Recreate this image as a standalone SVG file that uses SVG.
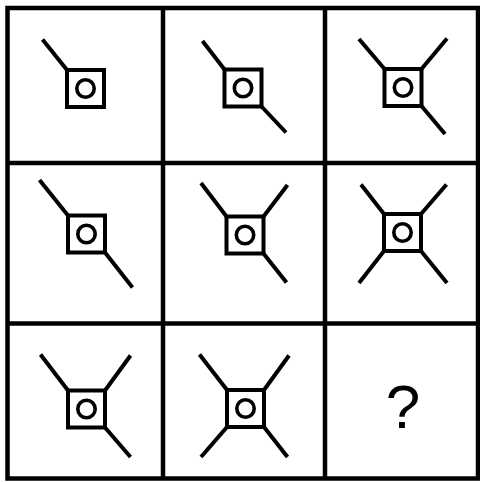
<svg xmlns="http://www.w3.org/2000/svg" width="480" height="482" viewBox="0 0 480 482">
<style>
.grid{fill:none;stroke:#000;stroke-width:4.5}
.sq{fill:none;stroke:#000;stroke-width:4}
.ci{fill:none;stroke:#000;stroke-width:3.6}
.ln{stroke:#000;stroke-width:4;stroke-linecap:butt}
.q{font-family:"Liberation Sans",Arial,sans-serif;font-size:62px;fill:#000;text-anchor:middle}
</style>
<rect width="480" height="482" fill="#fff"/>
<g id="grid">
<rect class="grid" x="7.5" y="8" width="470.5" height="470.5"/>
<line class="grid" x1="163" y1="8" x2="163" y2="478.5"/>
<line class="grid" x1="325" y1="8" x2="325" y2="478.5"/>
<line class="grid" x1="7.5" y1="163" x2="478" y2="163"/>
<line class="grid" x1="7.5" y1="323.5" x2="478" y2="323.5"/>
</g>
<g id="connectors">
<line class="ln" x1="67" y1="70" x2="42.5" y2="39.5"/>
<line class="ln" x1="224.5" y1="69.5" x2="202.5" y2="41"/>
<line class="ln" x1="261.5" y1="106.5" x2="286" y2="132.5"/>
<line class="ln" x1="384.5" y1="69" x2="359" y2="39"/>
<line class="ln" x1="421.5" y1="69" x2="447" y2="38.5"/>
<line class="ln" x1="421.5" y1="106" x2="445" y2="134"/>
<line class="ln" x1="68" y1="215.5" x2="39.5" y2="180"/>
<line class="ln" x1="105" y1="252.5" x2="132.5" y2="287.5"/>
<line class="ln" x1="226.5" y1="216.5" x2="201" y2="183"/>
<line class="ln" x1="263.5" y1="216.5" x2="287.5" y2="185"/>
<line class="ln" x1="263.5" y1="253.5" x2="286.5" y2="282.5"/>
<line class="ln" x1="384" y1="214" x2="361" y2="184.5"/>
<line class="ln" x1="421" y1="214" x2="446.5" y2="184.5"/>
<line class="ln" x1="384" y1="251" x2="359" y2="283"/>
<line class="ln" x1="421" y1="251" x2="447" y2="283"/>
<line class="ln" x1="68" y1="390.5" x2="40.5" y2="354.5"/>
<line class="ln" x1="105" y1="390.5" x2="130.5" y2="355.5"/>
<line class="ln" x1="105" y1="427.5" x2="130.5" y2="457"/>
<line class="ln" x1="227" y1="390" x2="199.5" y2="354.5"/>
<line class="ln" x1="264" y1="390" x2="289" y2="355.5"/>
<line class="ln" x1="227" y1="427" x2="201" y2="457"/>
<line class="ln" x1="264" y1="427" x2="287.5" y2="457"/>
</g>
<g id="r1c1"><rect class="sq" x="67" y="70" width="37" height="37"/><circle class="ci" cx="85.5" cy="88.5" r="8.7"/></g>
<g id="r1c2"><rect class="sq" x="224.5" y="69.5" width="37" height="37"/><circle class="ci" cx="243" cy="88" r="8.7"/></g>
<g id="r1c3"><rect class="sq" x="384.5" y="69" width="37" height="37"/><circle class="ci" cx="403" cy="87.5" r="8.7"/></g>
<g id="r2c1"><rect class="sq" x="68" y="215.5" width="37" height="37"/><circle class="ci" cx="86.5" cy="234" r="8.7"/></g>
<g id="r2c2"><rect class="sq" x="226.5" y="216.5" width="37" height="37"/><circle class="ci" cx="245" cy="235" r="8.7"/></g>
<g id="r2c3"><rect class="sq" x="384" y="214" width="37" height="37"/><circle class="ci" cx="402.5" cy="232.5" r="8.7"/></g>
<g id="r3c1"><rect class="sq" x="68" y="390.5" width="37" height="37"/><circle class="ci" cx="86.5" cy="409" r="8.7"/></g>
<g id="r3c2"><rect class="sq" x="227" y="390" width="37" height="37"/><circle class="ci" cx="245.5" cy="408.5" r="8.7"/></g>
<g id="r3c3"><text class="q" x="403" y="428">?</text></g>
</svg>
